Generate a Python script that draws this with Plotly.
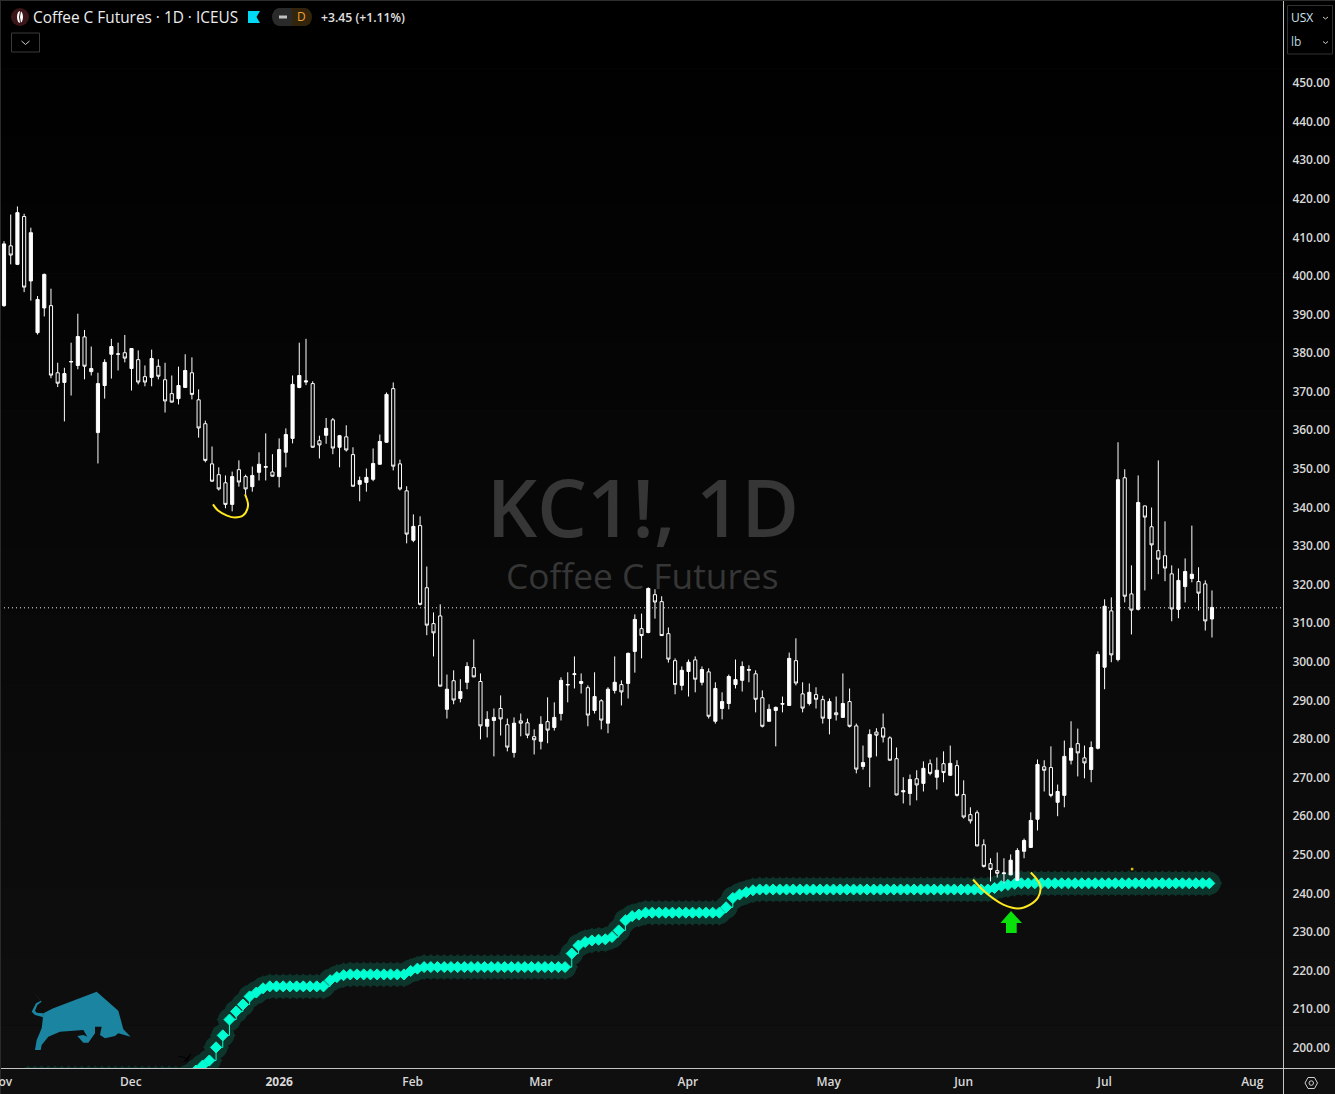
import plotly.graph_objects as go

opens = [392.3,407.8,403.0,415.4,398.7,385.3,391.7,392.3,374.9,372.4,
377.7,376.8,384.2,375.2,359.4,371.6,379.7,379.7,380.1,376.0,
378.3,373.9,373.7,376.6,373.1,369.5,368.2,371.1,374.9,367.9,
361.7,351.3,348.5,346.4,340.8,349.8,348.0,345.4,349.1,350.4,
349.2,348.0,354.3,357.9,371.1,372.5,372.1,357.3,358.7,362.7,
355.6,358.3,353.7,346.0,346.5,347.3,351.2,356.9,370.8,351.3,
344.3,331.5,335.3,319.2,309.9,311.9,287.7,295.1,290.5,294.7,
298.5,294.9,283.3,284.8,287.9,283.7,276.5,284.7,284.2,280.6,
279.4,284.5,283.0,286.6,294.0,296.7,294.4,293.3,287.4,289.9,
284.1,292.6,294.1,294.4,302.7,308.6,307.6,317.4,315.6,307.3,
300.3,293.9,297.5,300.5,294.7,297.4,284.6,287.9,289.2,294.1,
295.2,297.8,296.9,290.7,284.6,287.4,289.0,288.7,300.3,291.7,
289.2,291.5,290.2,285.3,286.8,285.6,289.7,283.4,272.9,275.3,
281.8,282.9,280.3,274.9,266.3,265.9,269.7,268.5,273.6,270.1,
273.6,270.6,273.1,265.6,260.4,260.9,252.6,247.7,245.9,245.1,
244.8,243.4,250.9,251.9,259.2,272.8,272.6,263.6,265.4,274.5,
278.8,275.1,272.1,277.6,298.6,313.2,300.6,347.7,317.6,313.6,
340.4,335.0,328.8,327.5,322.8,313.6,319.5,321.6,320.8,320.2,311.1]

closes = [408.3,405.4,416.4,397.1,411.2,393.9,400.4,374.3,372.2,374.7,
377.8,384.3,376.6,376.0,372.1,377.6,381.7,379.8,378.7,381.2,
372.5,372.5,378.6,374.0,367.6,367.3,371.6,375.5,369.3,360.6,
352.2,346.8,344.8,340.8,348.0,346.6,344.8,348.3,351.2,350.6,
348.1,355.0,358.9,371.9,374.2,372.8,355.6,356.2,360.5,355.4,
358.6,354.9,345.5,347.0,347.8,351.4,357.1,369.3,350.7,344.8,
333.1,335.1,314.9,309.5,307.5,293.7,292.9,290.1,292.3,298.8,
296.1,283.4,285.1,285.6,285.2,277.9,284.1,284.1,281.0,279.8,
283.8,282.3,285.6,295.2,294.1,296.9,294.9,286.2,291.0,284.9,
292.9,294.7,292.2,302.2,311.0,306.8,319.0,315.5,306.8,300.7,
294.1,297.8,299.9,295.5,298.0,285.9,293.1,289.7,296.2,295.4,
298.8,298.0,290.3,283.3,287.7,288.2,289.2,300.9,294.5,288.0,
292.1,290.3,285.4,289.7,286.3,289.2,283.3,272.2,273.9,281.2,
281.0,280.5,274.5,265.5,266.6,269.5,268.1,272.4,271.1,271.9,
271.3,273.7,265.4,259.8,258.8,252.3,247.0,246.2,245.2,245.3,
248.6,251.1,253.7,258.9,273.4,271.9,265.4,266.4,275.5,277.6,
276.4,273.8,277.8,301.9,314.4,301.8,347.2,317.0,313.4,341.3,
337.5,330.3,326.6,324.3,313.7,321.1,323.4,322.7,317.8,310.6,314.1]

highs = [409.0,415.9,418.0,416.1,412.5,394.8,400.6,396.7,377.5,376.2,
382.7,390.2,386.0,381.7,374.9,378.4,383.7,382.7,384.7,381.2,
380.7,376.8,380.9,378.4,377.5,374.2,376.5,379.7,378.9,370.6,
362.5,355.8,350.4,348.3,349.3,352.2,348.5,350.6,354.3,359.2,
353.8,357.9,360.5,374.2,382.7,383.7,372.7,358.6,363.2,363.2,
358.8,361.3,355.6,348.0,350.1,355.3,358.9,369.8,372.4,352.4,
345.5,338.2,337.7,324.7,312.8,314.9,296.7,297.8,295.5,299.9,
305.8,297.0,287.2,287.9,291.3,285.3,285.6,286.6,285.3,282.5,
285.9,290.8,289.5,296.0,297.3,301.4,297.0,293.9,297.3,290.3,
293.4,301.4,295.2,302.4,312.3,312.5,319.3,318.8,317.0,308.9,
300.9,298.8,300.6,301.4,298.8,298.3,294.7,292.1,296.7,300.6,
300.1,299.1,297.8,292.6,289.0,288.4,291.0,302.4,306.1,294.7,
294.4,293.4,291.2,290.5,291.0,297.0,293.1,284.0,278.3,282.5,
282.8,286.6,280.7,277.8,270.1,270.8,271.9,274.2,274.7,275.2,
276.8,278.3,274.5,269.3,262.3,261.5,254.0,249.1,250.6,249.1,
250.1,251.7,254.2,261.0,274.7,274.5,278.1,268.2,279.6,284.6,
282.7,278.3,279.4,302.7,316.2,316.7,356.9,349.9,325.0,348.3,
340.5,340.0,352.2,336.4,325.0,324.2,326.8,335.3,324.5,321.1,318.5]

lows = [392.0,403.0,402.8,395.8,393.6,384.8,389.5,373.5,371.2,362.3,
369.0,375.8,373.2,374.2,351.4,368.2,373.4,375.5,377.6,370.3,
371.9,371.4,371.4,373.2,364.6,367.2,366.7,371.0,368.0,358.1,
351.7,346.7,344.4,339.8,339.0,345.4,343.1,344.1,347.0,347.0,
348.0,345.2,350.4,356.6,370.9,371.7,355.5,352.7,356.5,353.8,
350.4,354.5,345.4,341.6,344.1,346.8,351.1,356.8,349.6,344.4,
330.7,331.0,314.6,306.9,301.4,293.6,285.3,289.0,289.5,292.9,
296.0,279.9,280.4,275.5,280.9,276.8,275.2,280.7,280.2,276.0,
277.3,278.9,282.2,284.8,289.5,293.1,291.8,283.3,286.6,282.5,
281.5,291.8,288.7,290.5,297.2,300.9,307.4,311.2,306.7,299.8,
291.6,292.6,291.0,292.1,293.9,285.3,284.0,285.1,287.7,293.1,
292.3,294.7,286.9,283.0,284.5,278.1,286.9,288.6,293.9,286.9,
288.7,287.9,284.0,281.2,284.8,285.5,283.0,271.1,272.1,267.5,
275.5,279.1,274.4,265.4,263.3,262.8,264.1,266.4,270.6,266.9,
268.8,270.5,265.1,259.4,258.1,252.2,246.7,243.1,244.1,242.6,
244.7,243.3,249.1,251.8,256.3,266.4,264.9,260.0,262.3,273.4,
270.3,269.8,268.8,277.3,292.9,299.9,300.1,315.4,307.1,313.3,
318.5,321.4,322.7,320.9,310.5,311.3,315.4,320.6,313.3,308.1,306.3]

# support indicator, one value per bar (None = not yet started)
indicator = [None,None,None,None,192.0,192.0,192.0,192.0,192.0,192.0,
192.0,192.0,192.0,192.0,192.0,192.0,192.0,192.0,192.0,192.0,
192.0,192.0,192.0,192.0,192.0,192.0,192.0,192.0,192.8,194.1,
195.4,196.7,200.1,203.2,207.3,209.4,211.2,213.3,214.3,215.4,
215.9,215.9,215.9,215.9,215.9,215.9,215.9,215.9,215.9,217.5,
218.3,218.8,219.0,219.0,219.0,219.0,219.0,219.0,219.0,219.0,
219.0,219.9,220.5,220.9,220.9,220.9,220.9,220.9,220.9,220.9,
220.9,220.9,220.9,220.9,220.9,220.9,220.9,220.9,220.9,220.9,
220.9,220.9,220.9,220.9,220.9,224.4,226.5,227.4,227.8,228.0,
228.1,228.7,230.4,233.0,234.1,234.5,235.0,235.0,235.0,235.0,
235.0,235.0,235.0,235.0,235.0,235.0,235.0,235.0,236.4,238.8,
239.7,240.3,240.8,241.0,241.0,241.0,241.0,241.0,241.0,241.0,
241.0,241.0,241.0,241.0,241.0,241.0,241.0,241.0,241.0,241.0,
241.0,241.0,241.0,241.0,241.0,241.0,241.0,241.0,241.0,241.0,
241.0,241.0,241.0,241.0,241.0,241.0,241.0,241.0,241.4,241.9,
242.2,242.5,242.6,242.6,242.6,242.6,242.6,242.6,242.6,242.6,
242.6,242.6,242.6,242.6,242.6,242.6,242.6,242.6,242.6,242.6,
242.6,242.6,242.6,242.6,242.6,242.6,242.6,242.6,242.6,242.6,242.6]

price_ticks = [200,210,220,230,240,250,260,270,280,290,300,310,320,330,340,350,
               360,370,380,390,400,410,420,430,440,450]
month_labels = ["Dec","<b>2026</b>","Feb","Mar","Apr","May","Jun","Jul","Aug"]
month_bars = [18.9,41,60.9,80,101.9,122.9,143,164,186]
last_price = 314.0

# hand-drawn yellow marks on the chart
swoosh1_bar = [31.14,31.89,33.23,34.42,35.61,36.36,35.91]
swoosh1_px = [340.8,339.2,337.9,337.4,337.9,340.5,343.4]
swoosh2_bar = [144.4,145.9,147.4,148.9,151.1,152.9,154.1,154.4,153.0]
swoosh2_px = [243.6,240.8,238.7,237.1,236.1,237.1,239.0,242.1,245.4]

W, H = 1335, 1094
PW, PH = 1283, 1068
BAR0, BARW = 4.0, 6.711
Y_TOP, Y_BOT = 471.5, 194.75
X_RANGE = [(0-BAR0)/BARW, (PW-BAR0)/BARW]

def fx(p): return p/PW
def fy(p): return 1-p/PH
def poly(pts, **kw):
    d = "M " + " L ".join(f"{fx(x):.5f},{fy(y):.5f}" for x, y in pts) + (" Z" if kw.pop("close", True) else "")
    return dict(type="path", xref="paper", yref="paper", path=d, layer=kw.pop("layer", "above"), **kw)
def note(px, py, text, size, color, anchor="left", family="Open Sans", weight=500):
    return dict(xref="paper", yref="paper", x=fx(px), y=fy(py), text=text, showarrow=False,
                xanchor=anchor, yanchor="middle", font=dict(family=family, size=size, color=color, weight=weight))

bars = list(range(len(closes)))
fig = go.Figure()

# watermark (below everything else)
fig.add_trace(go.Scatter(x=[95.2], y=[337.4], mode="text", text=["KC1!, 1D"], textposition="middle center",
                         textfont=dict(family="Open Sans", size=79, color="#363636", weight=600), hoverinfo="skip", showlegend=False))
fig.add_trace(go.Scatter(x=[95.1], y=[321.2], mode="text", text=["Coffee C Futures"], textposition="middle center",
                         textfont=dict(family="Open Sans", size=35.3, color="#363636", weight=500), hoverinfo="skip", showlegend=False))
ind_x = [b-0.4 for b in bars]
fig.add_trace(go.Scatter(x=ind_x, y=indicator, mode="markers",
                         marker=dict(symbol="diamond", size=20, color="#0d352c", line=dict(width=0)),
                         hoverinfo="skip", showlegend=False))
fig.add_trace(go.Scatter(x=ind_x, y=indicator, mode="markers",
                         marker=dict(symbol="circle", size=23, color="#0d352c", line=dict(width=0)),
                         hoverinfo="skip", showlegend=False))
fig.add_trace(go.Scatter(x=ind_x, y=indicator, mode="lines+markers",
                         line=dict(color="#00ffd2", width=1, shape="hv"),
                         marker=dict(symbol="diamond", size=8.5, color="#00ffd2", line=dict(color="#00ffd2", width=1)),
                         hoverinfo="skip", showlegend=False))

# candles on an overlaid axis so they sit above the indicator
fig.add_trace(go.Candlestick(x=bars, open=opens, high=highs, low=lows, close=closes, yaxis="y2",
                             whiskerwidth=0,
                             increasing=dict(line=dict(color="#ffffff", width=1), fillcolor="#ffffff"),
                             decreasing=dict(line=dict(color="#ffffff", width=1), fillcolor="#070707"),
                             hoverinfo="skip", showlegend=False))
for bx, py in ((swoosh1_bar, swoosh1_px), (swoosh2_bar, swoosh2_px)):
    fig.add_trace(go.Scatter(x=bx, y=py, yaxis="y2", mode="lines",
                             line=dict(color="#ffe81f", width=2, shape="spline"),
                             hoverinfo="skip", showlegend=False))
fig.add_trace(go.Scatter(x=[168.1], y=[246.3], yaxis="y2", mode="markers",
                         marker=dict(symbol="square", size=2.5, color="#d8c000"), hoverinfo="skip", showlegend=False))

shapes = []
# vertical page gradient, black at the top to near-black at the bottom
N = 16
for i in range(N):
    v = round(15*i/(N-1))
    c = f"rgb({v},{v},{v})"
    shapes.append(dict(type="rect", xref="paper", yref="paper", x0=0, x1=W/PW,
                       y0=1-(i+1)*H/N/PH, y1=1-i*H/N/PH, fillcolor=c, line=dict(width=0), layer="below"))
shapes.append(dict(type="line", xref="paper", yref="y", x0=0, x1=1, y0=last_price, y1=last_price,
                   line=dict(color="#e8e8e8", width=1, dash="1px 3px"), layer="below"))
axis_c = "#c4c4c4"
shapes += [
    dict(type="line", xref="paper", yref="paper", x0=fx(1283.5), x1=fx(1283.5), y0=fy(1094), y1=fy(0), line=dict(color=axis_c, width=1)),
    dict(type="line", xref="paper", yref="paper", x0=0, x1=fx(1335), y0=fy(1068.5), y1=fy(1068.5), line=dict(color=axis_c, width=1)),
    dict(type="line", xref="paper", yref="paper", x0=0, x1=fx(1335), y0=fy(0.5), y1=fy(0.5), line=dict(color="#2e2e2e", width=1)),
    dict(type="line", xref="paper", yref="paper", x0=fx(0.5), x1=fx(0.5), y0=fy(1094), y1=fy(0), line=dict(color="#2a2a2a", width=1)),
]
# green arrow
shapes.append(poly([(1011,911),(1022,923),(1016.7,923),(1016.7,933),(1006,933),(1006,923),(1000.5,923)],
                   fillcolor="#0ae00a", line=dict(width=0)))
# bull logo
Z = lambda pts: [(a/3, 970+b/3) for a, b in pts]
shapes.append(poly(Z([(130,130),(160,115),(290,65),(355,122),(370,178),(392,200),(355,190),(345,198),(315,205),
                      (300,195),(305,170),(285,170),(285,190),(265,218),(250,218),(232,198),(250,195),(262,200),
                      (250,180),(180,185),(145,200),(125,225),(122,240),(105,240),(110,210),(125,175),(128,150)]),
                   fillcolor="#1b84a0", line=dict(width=0)))
shapes.append(poly(Z([(95,60),(123,92),(108,100),(95,125),(105,135),(130,142),(130,130),(110,128),(105,122),(112,105),(125,95)]),
                   fillcolor="#1b84a0", line=dict(width=0)))
# small dark scribble
shapes.append(poly(Z([(535,258),(565,266),(552,275),(572,252),(560,278)]), close=False,
                   line=dict(color="#000000", width=1)))
# symbol icon
shapes.append(dict(type="circle", xref="paper", yref="paper", x0=fx(11), x1=fx(29), y0=fy(26), y1=fy(8),
                   fillcolor="#3c1519", line=dict(width=0)))
shapes.append(dict(type="circle", xref="paper", yref="paper", x0=fx(17), x1=fx(23), y0=fy(23), y1=fy(11),
                   fillcolor="#ffffff", line=dict(width=0)))
shapes.append(poly([(20.5,11),(19.5,17),(20.5,23)], close=False, line=dict(color="#3c1519", width=1)))
# flag
shapes.append(poly([(248,11),(260,11),(256.5,17),(260,23),(248,23)], fillcolor="#00d9f5", line=dict(width=0)))
# pill
shapes.append(dict(type="rect", xref="paper", yref="paper", x0=fx(279), x1=fx(292), y0=fy(26), y1=fy(8), fillcolor="#2a2a2a", line=dict(width=0)))
shapes.append(dict(type="circle", xref="paper", yref="paper", x0=fx(272), x1=fx(286), y0=fy(26), y1=fy(8), fillcolor="#2a2a2a", line=dict(width=0)))
shapes.append(dict(type="rect", xref="paper", yref="paper", x0=fx(292), x1=fx(305), y0=fy(26), y1=fy(8), fillcolor="#33240c", line=dict(width=0)))
shapes.append(dict(type="circle", xref="paper", yref="paper", x0=fx(298), x1=fx(312), y0=fy(26), y1=fy(8), fillcolor="#33240c", line=dict(width=0)))
shapes.append(dict(type="line", xref="paper", yref="paper", x0=fx(279), x1=fx(287), y0=fy(17), y1=fy(17), line=dict(color="#c0c0c0", width=3)))
# collapse button
shapes.append(dict(type="rect", xref="paper", yref="paper", x0=fx(11.5), x1=fx(39.5), y0=fy(52), y1=fy(33), fillcolor="rgba(0,0,0,0)", line=dict(color="#3a3a3a", width=1)))
shapes.append(poly([(21.5,41),(25.5,44.5),(29.5,41)], close=False, line=dict(color="#d0d0d0", width=1)))
# currency/unit box
shapes.append(dict(type="rect", xref="paper", yref="paper", x0=fx(1287.5), x1=fx(1332.5), y0=fy(54), y1=fy(5.5), fillcolor="rgba(0,0,0,0)", line=dict(color="#333333", width=1)))
shapes.append(poly([(1323,17),(1325.5,19),(1328,17)], close=False, line=dict(color="#cfcfcf", width=1)))
shapes.append(poly([(1323,41.5),(1325.5,43.5),(1328,41.5)], close=False, line=dict(color="#cfcfcf", width=1)))
# settings icon
shapes.append(poly([(1305,1083),(1308,1077.5),(1314.5,1077.5),(1317.5,1083),(1314.5,1088.5),(1308,1088.5)],
                   fillcolor="rgba(0,0,0,0)", line=dict(color="#d0d0d0", width=1)))
shapes.append(dict(type="circle", xref="paper", yref="paper", x0=fx(1309), x1=fx(1313.5), y0=fy(1085.3), y1=fy(1080.8),
                   fillcolor="rgba(0,0,0,0)", line=dict(color="#d0d0d0", width=1)))

annotations = [
    note(31, 17.5, "Coffee C Futures · 1D · ICEUS", 15.4, "#ececec"),
    note(301, 17, "D", 12, "#f0a030", anchor="center"),
    note(319, 17.5, "+3.45 (+1.11%)", 12.2, "#e0e0e0", weight=600),
    note(1289, 17.5, "USX", 12, "#cfe4ee"),
    note(1289, 42, "lb", 12, "#b9d6df"),
    note(1, 1081, "Nov", 12, "#d8d8d8", anchor="center", weight=600),
]

fig.update_layout(
    width=W, height=H, autosize=False, boxgap=0.33,
    margin=dict(l=0, r=W-PW, t=0, b=H-PH, pad=0),
    paper_bgcolor="#0f0f0f", plot_bgcolor="rgba(0,0,0,0)",
    showlegend=False, hovermode=False, dragmode=False,
    shapes=shapes, annotations=annotations,
    font=dict(family="Open Sans", color="#d8d8d8", size=12),
    xaxis=dict(range=X_RANGE, showgrid=False, zeroline=False, showline=False, rangeslider=dict(visible=False),
               tickmode="array", tickvals=month_bars, ticktext=month_labels,
               ticks="outside", ticklen=3, tickcolor="rgba(0,0,0,0)",
               tickfont=dict(family="Open Sans", size=12, color="#d8d8d8", weight=600)),
    yaxis=dict(range=[Y_BOT, Y_TOP], side="right", showgrid=False, zeroline=False, showline=False,
               tickmode="array", tickvals=price_ticks, tickformat=".2f",
               ticks="outside", ticklen=6, tickcolor="rgba(0,0,0,0)",
               tickfont=dict(family="Open Sans", size=12, color="#d8d8d8", weight=600)),
    yaxis2=dict(range=[Y_BOT, Y_TOP], overlaying="y", side="right", visible=False, showgrid=False, zeroline=False),
)
fig.write_html("out.html", config=dict(displayModeBar=False),
               post_script="document.body.style.margin='0';document.body.style.background='#000';document.documentElement.style.overflow='hidden';")
